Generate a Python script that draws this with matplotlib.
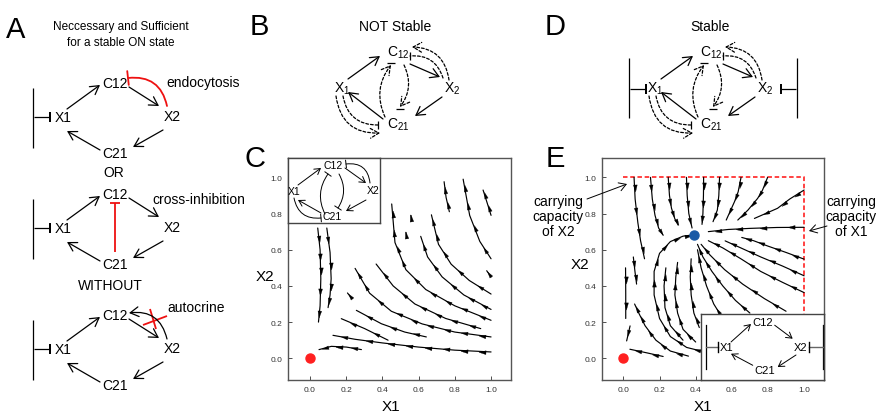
import numpy as np
import matplotlib
matplotlib.use("Agg")
import matplotlib.pyplot as plt
from matplotlib.path import Path

plt.rcParams['font.family'] = ['Liberation Sans', 'DejaVu Sans']

# ---------------- data ----------------
tick_vals = [0.0, 0.2, 0.4, 0.6, 0.8, 1.0]
tick_labels = ["0.0", "0.2", "0.4", "0.6", "0.8", "1.0"]
red_dot = (0.0, 0.0)
blue_dot = (0.39, 0.68)
cap_x1 = 1.0
cap_x2 = 1.0

# streamlines of panel C (points listed in flow direction)
c01 = [(1.0, 0.79), (0.975, 0.87), (0.956, 0.93)]
c02 = [(0.77, 0.81), (0.752, 0.889), (0.741, 0.976)]
c03 = [(1.0, 0.55), (0.938, 0.646), (0.882, 0.79), (0.846, 0.99)]
c04 = [(1.0, 0.45), (0.976, 0.484)]
c05 = [(1.0, 0.355), (0.88, 0.43), (0.78, 0.52), (0.71, 0.63), (0.671, 0.793)]
c06 = [(1.0, 0.27), (0.85, 0.35), (0.73, 0.45), (0.65, 0.56), (0.612, 0.674)]
c07 = [(0.535, 0.663), (0.530, 0.696)]
c08 = [(0.561, 0.76), (0.557, 0.79)]
c09 = [(1.0, 0.21), (0.80, 0.29), (0.64, 0.38), (0.53, 0.49), (0.47, 0.64), (0.452, 0.853)]
c10 = [(0.943, 0.164), (0.75, 0.22), (0.58, 0.30), (0.46, 0.40), (0.366, 0.521)]
c11 = [(1.0, 0.118), (0.80, 0.145), (0.62, 0.19), (0.45, 0.26), (0.33, 0.36), (0.25, 0.497)]
c12 = [(0.232, 0.331), (0.208, 0.361)]
c13 = [(0.643, 0.118), (0.524, 0.145), (0.395, 0.191), (0.257, 0.265)]
c14 = [(0.432, 0.10), (0.303, 0.164), (0.174, 0.219)]
c15 = [(1.0, 0.035), (0.80, 0.045), (0.60, 0.062), (0.40, 0.085), (0.25, 0.105), (0.128, 0.127)]
c16 = [(0.285, 0.048), (0.202, 0.062), (0.119, 0.066), (0.051, 0.048)]
c17 = [(0.044, 0.72), (0.057, 0.60), (0.061, 0.44), (0.057, 0.29), (0.048, 0.20)]
c18 = [(0.094, 0.72), (0.112, 0.585), (0.118, 0.44), (0.112, 0.35), (0.101, 0.28)]
C_LINES = [c01, c02, c03, c04, c05, c06, c07, c08, c09, c10, c11, c12,
           c13, c14, c15, c16, c17, c18]

# streamlines of panel E (points listed in flow direction)
e01 = [(0.059, 1.0), (0.065, 0.88), (0.08, 0.75), (0.095, 0.65), (0.117, 0.55)]
e02 = [(0.15, 1.0), (0.16, 0.88), (0.175, 0.79), (0.195, 0.72), (0.22, 0.68)]
e03 = [(0.248, 1.0), (0.255, 0.90), (0.266, 0.83), (0.285, 0.77), (0.303, 0.736)]
e04 = [(0.349, 1.0), (0.353, 0.90), (0.362, 0.80), (0.38, 0.72)]
e05 = [(0.444, 1.0), (0.443, 0.90), (0.44, 0.80), (0.435, 0.74)]
e06 = [(0.532, 1.0), (0.528, 0.90), (0.52, 0.82), (0.496, 0.755)]
e07 = [(0.651, 1.0), (0.635, 0.92), (0.615, 0.866), (0.569, 0.764)]
e08 = [(0.798, 1.0), (0.77, 0.93), (0.743, 0.884), (0.69, 0.82), (0.633, 0.764)]
e09 = [(1.0, 0.93), (0.92, 0.88), (0.853, 0.829), (0.725, 0.773)]
e10 = [(1.0, 0.724), (0.85, 0.723), (0.70, 0.718), (0.58, 0.712), (0.47, 0.70)]
e11 = [(1.0, 0.548), (0.90, 0.585), (0.80, 0.62), (0.72, 0.65), (0.655, 0.668)]
e12 = [(1.0, 0.456), (0.88, 0.51), (0.76, 0.56), (0.65, 0.61), (0.563, 0.649)]
e13 = [(1.0, 0.363), (0.88, 0.42), (0.76, 0.48), (0.65, 0.55), (0.55, 0.61), (0.47, 0.65)]
e14 = [(0.90, 0.26), (0.78, 0.33), (0.66, 0.41), (0.56, 0.49), (0.48, 0.57), (0.43, 0.63)]
e15 = [(0.70, 0.25), (0.62, 0.32), (0.55, 0.40), (0.49, 0.48), (0.44, 0.56), (0.41, 0.63)]
e16 = [(0.55, 0.22), (0.50, 0.30), (0.46, 0.40), (0.43, 0.50), (0.41, 0.60)]
e17 = [(0.42, 0.17), (0.39, 0.25), (0.375, 0.35), (0.37, 0.45), (0.375, 0.55)]
e18 = [(0.40, 0.09), (0.33, 0.16), (0.30, 0.25), (0.285, 0.35), (0.29, 0.45), (0.30, 0.53)]
e19 = [(0.47, 0.03), (0.35, 0.06), (0.26, 0.12), (0.20, 0.22), (0.17, 0.35), (0.17, 0.48),
       (0.20, 0.58), (0.26, 0.645), (0.33, 0.675), (0.385, 0.682)]
e20 = [(0.36, 0.012), (0.26, 0.04), (0.18, 0.10), (0.12, 0.18), (0.085, 0.25), (0.062, 0.30)]
e21 = [(0.012, 0.50), (0.013, 0.36), (0.013, 0.22)]
e22 = [(0.055, 0.56), (0.064, 0.48), (0.073, 0.41)]
e23 = [(0.037, 0.179), (0.018, 0.096)]
e24 = [(0.22, 0.01), (0.13, 0.03), (0.036, 0.05)]
e25 = [(0.33, 0.10), (0.26, 0.18), (0.23, 0.28), (0.225, 0.40), (0.235, 0.50)]
E_LINES = [e01, e02, e03, e04, e05, e06, e07, e08, e09, e10, e11, e12, e13,
           e14, e15, e16, e17, e18, e19, e20, e21, e22, e23, e24, e25]

# ---------------- figure ----------------
W, H = 876, 414
fig = plt.figure(figsize=(W / 100, H / 100), dpi=100)


def fax(l, t, r, b, z=1):
    return fig.add_axes([l / W, 1 - b / H, (r - l) / W, (b - t) / H], zorder=z)


PX_PER_UNIT = 181.0
HEAD = np.array([[1.0, 0.0], [-1.0, 0.55], [-1.0, -0.55], [1.0, 0.0]])


def head_marker(ux, uy):
    rot = np.array([[ux, -uy], [uy, ux]])
    v = HEAD @ rot.T
    return Path(v, [Path.MOVETO, Path.LINETO, Path.LINETO, Path.CLOSEPOLY])


def stream(ax, pts):
    xs = [p[0] for p in pts]
    ys = [p[1] for p in pts]
    ax.plot(xs, ys, color='k', lw=0.85, zorder=3, solid_capstyle='round')
    for i in range(len(pts) - 1):
        x0, y0 = pts[i]
        x1, y1 = pts[i + 1]
        dx, dy = x1 - x0, y1 - y0
        n = np.hypot(dx, dy)
        ux, uy = dx / n, dy / n
        na = max(1, int(round(n * PX_PER_UNIT / 19)))
        mk = head_marker(ux, uy)
        for k in range(na):
            f = (k + 0.5) / na
            ax.plot([x0 + dx * f], [y0 + dy * f], marker=mk, ms=5.2, color='k',
                    mew=0.2, zorder=4, ls='none')


def style_plot(ax):
    ax.set_xlim(-0.12, 1.11)
    ax.set_ylim(-0.12, 1.107)
    ax.set_xticks(tick_vals)
    ax.set_yticks(tick_vals)
    ax.set_xticklabels(tick_labels)
    ax.set_yticklabels(tick_labels)
    ax.tick_params(direction='in', length=3, width=0.6, labelsize=6, colors='#333333',
                   pad=4)
    for s in ax.spines.values():
        s.set_color('#555555')
        s.set_linewidth(1.0)
    ax.set_facecolor('none')


# panel C plot
axC = fax(288, 159, 511, 381)
style_plot(axC)
for ln in C_LINES:
    stream(axC, ln)
axC.plot([red_dot[0]], [red_dot[1]], 'o', color='#ff2020', ms=6.5, zorder=5)

# panel E plot
axE = fax(601.7, 159, 824, 381)
style_plot(axE)
for ln in E_LINES:
    stream(axE, ln)
axE.plot([0, cap_x1, cap_x1], [cap_x2, cap_x2, 0], color='#ff3333', lw=1.3,
         ls=(0, (2.5, 1.5)), zorder=2)
axE.plot([red_dot[0]], [red_dot[1]], 'o', color='#ff2020', ms=6.5, zorder=5)
axE.plot([blue_dot[0]], [blue_dot[1]], 'o', color='#1a5aa6', ms=6.5, zorder=5)

# ---------------- overlay for diagrams ----------------
ov = fig.add_axes([0, 0, 1, 1], zorder=20)
ov.set_xlim(0, W)
ov.set_ylim(H, 0)
ov.axis('off')
ov.patch.set_alpha(0)


def arr(ax, p0, p1, style='->,head_length=0.6,head_width=0.35', color='k', lw=0.9,
        ls='-', rad=0.0, ms=10):
    ax.annotate('', xy=p1, xytext=p0,
                arrowprops=dict(arrowstyle=style, color=color, lw=lw, linestyle=ls,
                                shrinkA=0, shrinkB=0, mutation_scale=ms,
                                connectionstyle=f'arc3,rad={rad}'))


def line(ax, xs, ys, color='k', lw=0.9, ls='-'):
    ax.plot(xs, ys, color=color, lw=lw, ls=ls, solid_capstyle='butt')


def tbar_h(ax, x0, x1, y, color='k', lw=0.9, h=5):
    line(ax, [x0, x1], [y, y], color, lw)
    line(ax, [x1, x1], [y - h, y + h], color, lw * 1.6)


FS_NODE = 10
FS_TXT = 10

# ---- Panel A ----
ov.text(6, 30, "A", fontsize=21, va='center', ha='left')
ov.text(121, 27, "Neccessary and Sufficient", fontsize=8.5, ha='center', va='center')
ov.text(121, 43, "for a stable ON state", fontsize=8.5, ha='center', va='center')


def diamondA(dy):
    ov.text(115, 84 + dy, "C12", fontsize=FS_NODE, ha='center', va='center')
    ov.text(63, 118 + dy, "X1", fontsize=FS_NODE, ha='center', va='center')
    ov.text(172, 117 + dy, "X2", fontsize=FS_NODE, ha='center', va='center')
    ov.text(115, 154 + dy, "C21", fontsize=FS_NODE, ha='center', va='center')
    arr(ov, (67, 110 + dy), (100, 86 + dy))
    arr(ov, (129, 88 + dy), (159, 107 + dy))
    arr(ov, (163, 131 + dy), (133, 148 + dy))
    arr(ov, (100, 151 + dy), (67, 132 + dy))
    line(ov, [33, 33], [89 + dy, 149 + dy])
    tbar_h(ov, 34, 50, 118 + dy)


diamondA(0)
arr(ov, (167, 107), (128, 79), style='-[,widthB=0.5,lengthB=0', color='#ee1111', lw=1.3,
    rad=0.45, ms=10)
ov.text(166, 83, "endocytosis", fontsize=FS_TXT, ha='left', va='center')
ov.text(114, 173, "OR", fontsize=FS_TXT, ha='center', va='center')

diamondA(111)
line(ov, [115, 115], [204, 253], color='#ee1111', lw=1.3)
line(ov, [110, 120], [204, 204], color='#ee1111', lw=1.3)
ov.text(152, 200, "cross-inhibition", fontsize=FS_TXT, ha='left', va='center')
ov.text(110, 286, "WITHOUT", fontsize=FS_TXT, ha='center', va='center')

diamondA(232)
arr(ov, (167, 340), (129, 314), rad=0.45)
line(ov, [143, 167], [326, 317], color='#ee1111', lw=1.3)
line(ov, [150, 156], [310, 330], color='#ee1111', lw=1.3)
ov.text(167, 308, "autocrine", fontsize=FS_TXT, ha='left', va='center')


# ---- Panels B and D ----
def node_sub(ax, x, y, base, sub, fs=10):
    ax.text(x, y, r"$\mathregular{%s_{%s}}$" % (base, sub), fontsize=fs, ha='center',
            va='center')


DASH = (0, (2.2, 1.6))


def bar(ax, p, vertical, half=4, lw=0.9):
    x, y = p
    if vertical:
        line(ax, [x, x], [y - half, y + half], lw=lw)
    else:
        line(ax, [x - half, x + half], [y, y], lw=lw)


def networkBD(ox):
    node_sub(ov, 398 + ox, 53, 'C', '12')
    node_sub(ov, 342 + ox, 89, 'X', '1')
    node_sub(ov, 452 + ox, 89, 'X', '2')
    node_sub(ov, 398 + ox, 125, 'C', '21')
    arr(ov, (348 + ox, 80), (380 + ox, 57))
    arr(ov, (410 + ox, 65), (440 + ox, 78))
    arr(ov, (442 + ox, 98), (415 + ox, 117))
    arr(ov, (383 + ox, 120), (348 + ox, 93))
    # dashed loops X2 -> C12
    arr(ov, (449 + ox, 81), (412 + ox, 48), ls=DASH, rad=0.42)
    arr(ov, (443 + ox, 79), (410 + ox, 57), style='-', ls=DASH, rad=0.4)
    bar(ov, (410 + ox, 57), True)
    # dashed loops between C12 and C21
    arr(ov, (385 + ox, 118), (391 + ox, 66), ls=DASH, rad=-0.3)
    bar(ov, (391 + ox, 64), False)
    arr(ov, (404 + ox, 66), (400 + ox, 108), ls=DASH, rad=-0.3)
    bar(ov, (400 + ox, 110), False)
    # dashed loops X1 -> C21
    arr(ov, (336 + ox, 97), (380 + ox, 134), ls=DASH, rad=0.45)
    arr(ov, (343 + ox, 97), (378 + ox, 126), style='-', ls=DASH, rad=0.42)
    bar(ov, (378 + ox, 126), True)


ov.text(250, 27, "B", fontsize=21, va='center', ha='left')
ov.text(395, 27, "NOT Stable", fontsize=FS_TXT, ha='center', va='center')
networkBD(0)

ov.text(545, 27, "D", fontsize=21, va='center', ha='left')
ov.text(710, 27, "Stable", fontsize=FS_TXT, ha='center', va='center')
networkBD(313)
line(ov, [629, 629], [59, 119])
tbar_h(ov, 630, 646, 90)
line(ov, [797, 797], [59, 119])
line(ov, [781, 796], [90, 90])
line(ov, [781, 781], [85, 95], lw=1.4)

# ---- Panel C / E labels ----
ov.text(245, 159, "C", fontsize=21, va='center', ha='left')
ov.text(391, 407, "X1", fontsize=11, ha='center', va='center')
ov.text(265, 277, "X2", fontsize=11, ha='center', va='center')

ov.text(546, 159, "E", fontsize=21, va='center', ha='left')
ov.text(703, 407, "X1", fontsize=11, ha='center', va='center')
ov.text(580, 265, "X2", fontsize=11, ha='center', va='center')

ov.text(558, 217, "carrying\ncapacity\nof X2", fontsize=10, ha='center', va='center',
        linespacing=1.05)
arr(ov, (587, 200), (627, 185), style='->,head_length=0.5,head_width=0.3', lw=0.7)
ov.text(851, 217, "carrying\ncapacity\nof X1", fontsize=10, ha='center', va='center',
        linespacing=1.05)
arr(ov, (827, 227), (809, 232), style='->,head_length=0.5,head_width=0.3', lw=0.7)

# ---- Inset C ----
inC = fax(288, 159, 380, 224, z=10)
inC.set_xlim(0, 92)
inC.set_ylim(65, 0)
inC.set_xticks([])
inC.set_yticks([])
for s in inC.spines.values():
    s.set_color('#444444')
    s.set_linewidth(1.0)
fsI = 7.5
inC.text(45, 7, "C12", fontsize=fsI, ha='center', va='center')
inC.text(6.5, 33, "X1", fontsize=fsI, ha='center', va='center')
inC.text(85, 32, "X2", fontsize=fsI, ha='center', va='center')
inC.text(44, 58, "C21", fontsize=fsI, ha='center', va='center')
sty = '->,head_length=0.5,head_width=0.3'
arr(inC, (10, 27), (33, 10), style=sty, lw=0.7, ms=8)
arr(inC, (57, 10), (78, 25), style=sty, lw=0.7, ms=8)
arr(inC, (78, 42), (58, 53), style=sty, lw=0.7, ms=8)
arr(inC, (33, 55), (10, 42), style=sty, lw=0.7, ms=8)
tb = '-[,widthB=0.35,lengthB=0'
arr(inC, (82, 25), (58, 6), style=tb, lw=0.7, rad=0.5, ms=8)
arr(inC, (37, 56), (40, 16), style=tb, lw=0.7, rad=-0.3, ms=8)
arr(inC, (51, 16), (50, 50), style=tb, lw=0.7, rad=-0.3, ms=8)
arr(inC, (6, 40), (33, 60), style=tb, lw=0.7, rad=0.45, ms=8)

# ---- Inset E ----
inE = fax(700.7, 315, 824, 381, z=10)
inE.set_xlim(0, 1)
inE.set_ylim(0, 1)
inE.set_xticks([])
inE.set_yticks([])
for s in inE.spines.values():
    s.set_color('#444444')
    s.set_linewidth(1.0)
inE.text(0.503, 0.879, "C12", fontsize=fsI + 0.5, ha='center', va='center')
inE.text(0.21, 0.5, "X1", fontsize=fsI + 0.5, ha='center', va='center')
inE.text(0.81, 0.5, "X2", fontsize=fsI + 0.5, ha='center', va='center')
inE.text(0.516, 0.147, "C21", fontsize=fsI + 0.5, ha='center', va='center')
arr(inE, (0.246, 0.576), (0.408, 0.848), style=sty, lw=0.7, ms=8)
arr(inE, (0.60, 0.83), (0.746, 0.626), style=sty, lw=0.7, ms=8)
arr(inE, (0.773, 0.379), (0.624, 0.197), style=sty, lw=0.7, ms=8)
arr(inE, (0.422, 0.223), (0.246, 0.398), style=sty, lw=0.7, ms=8)
inE.plot([0.043, 0.043], [0.17, 0.83], color='k', lw=0.9)
inE.plot([0.989, 0.989], [0.17, 0.83], color='k', lw=0.9)
inE.plot([0.043, 0.143], [0.5, 0.5], color='#666666', lw=1.0)
inE.plot([0.143, 0.143], [0.42, 0.58], color='k', lw=1.0)
inE.plot([0.881, 0.989], [0.5, 0.5], color='#666666', lw=1.0)
inE.plot([0.881, 0.881], [0.42, 0.58], color='k', lw=1.0)

fig.savefig("out.png", dpi=100)
